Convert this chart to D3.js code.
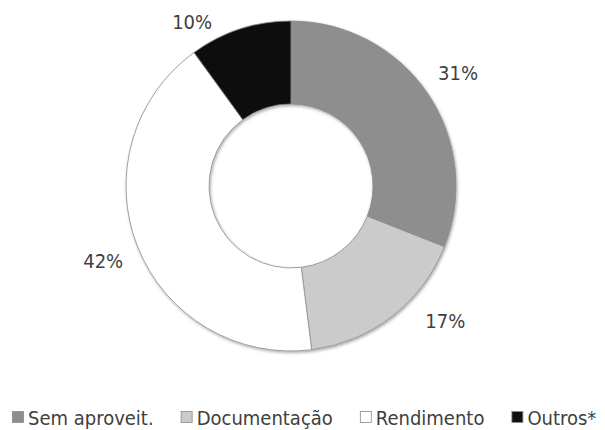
<!DOCTYPE html>
<html>
<head>
<meta charset="utf-8">
<script src="https://cdn.jsdelivr.net/npm/d3@7"></script>
<style>
    body { margin: 0; background: #fff; }
</style>
</head>
<body>
<script>
// data
var categories = ["Sem aproveit.", "Documentação", "Rendimento", "Outros*"];
var values     = [31, 17, 42, 10];
var colors     = ["#8e8e8e", "#cbcbcb", "#ffffff", "#111111"];

var width = 605, height = 430;
var cx = 291, cy = 186;
var outerR = 165, innerR = 82;
var font = "'DejaVu Sans Condensed', 'DejaVu Sans', sans-serif";

var svg = d3.select("body")
    .append("svg")
    .attr("width", width)
    .attr("height", height);

// -------------------------------------------------------------------------- //
//                                 SHADOW                                     //
// -------------------------------------------------------------------------- //
var defs = svg.append("defs");
defs.append("filter")
    .attr("id", "shadow")
    .attr("x", "-10%").attr("y", "-10%")
    .attr("width", "120%").attr("height", "120%")
    .append("feDropShadow")
    .attr("dx", 1).attr("dy", 1.5)
    .attr("stdDeviation", 1.5)
    .attr("flood-color", "#000")
    .attr("flood-opacity", 0.35);

// -------------------------------------------------------------------------- //
//                                 DONUT                                      //
// -------------------------------------------------------------------------- //
var data = categories.map(function(c, i) {
    return { name: c, value: values[i], color: colors[i] };
});

var pie = d3.pie()
    .sort(null)
    .value(function(d) { return d.value; });

var arc = d3.arc()
    .innerRadius(innerR)
    .outerRadius(outerR);

var g = svg.append("g")
    .attr("transform", "translate(" + cx + "," + cy + ")");

var arcs = pie(data);

g.append("g")
    .attr("filter", "url(#shadow)")
    .selectAll("path")
    .data(arcs)
    .enter()
    .append("path")
    .attr("d", arc)
    .attr("fill", function(d) { return d.data.color; })
    .attr("stroke", "#8a8a8a")
    .attr("stroke-width", 0.8);

// labels, pushed outside the ring (Excel "best fit" moves two of them)
// nudge: [degrees, radius px]
var labelR = 202;
var nudge = { "Documentação": [-11, 3], "Outros*": [-13, -10] };

function labelPos(d) {
    var n = nudge[d.data.name] || [0, 0];
    var a = (d.startAngle + d.endAngle) / 2 + n[0] * Math.PI / 180;
    var r = labelR + n[1];
    return [r * Math.sin(a), -r * Math.cos(a)];
}

g.selectAll("text.lbl")
    .data(arcs)
    .enter()
    .append("text")
    .attr("class", "lbl")
    .attr("x", function(d) { return labelPos(d)[0]; })
    .attr("y", function(d) { return labelPos(d)[1]; })
    .attr("dy", "0.36em")
    .attr("text-anchor", "middle")
    .style("font-family", font)
    .style("font-size", "20px")
    .style("fill", "#404040")
    .text(function(d) { return d.data.value + "%"; });

// -------------------------------------------------------------------------- //
//                                 LEGEND                                     //
// -------------------------------------------------------------------------- //
var legend = svg.append("g").attr("class", "legend");
var lx = 12, ly = 425;
var gap = 27;

categories.forEach(function(c, i) {
    var item = legend.append("g")
        .attr("transform", "translate(" + lx + "," + ly + ")");
    item.append("rect")
        .attr("x", 0.5)
        .attr("y", -13.5)
        .attr("width", 11)
        .attr("height", 11)
        .attr("fill", colors[i])
        .attr("stroke", "#8a8a8a")
        .attr("stroke-width", 0.8);
    var t = item.append("text")
        .attr("x", 16)
        .attr("y", 0)
        .style("font-family", font)
        .style("font-size", "20px")
        .style("fill", "#404040")
        .text(c);
    lx += 16 + t.node().getComputedTextLength() + gap;
});
</script>
</body>
</html>
